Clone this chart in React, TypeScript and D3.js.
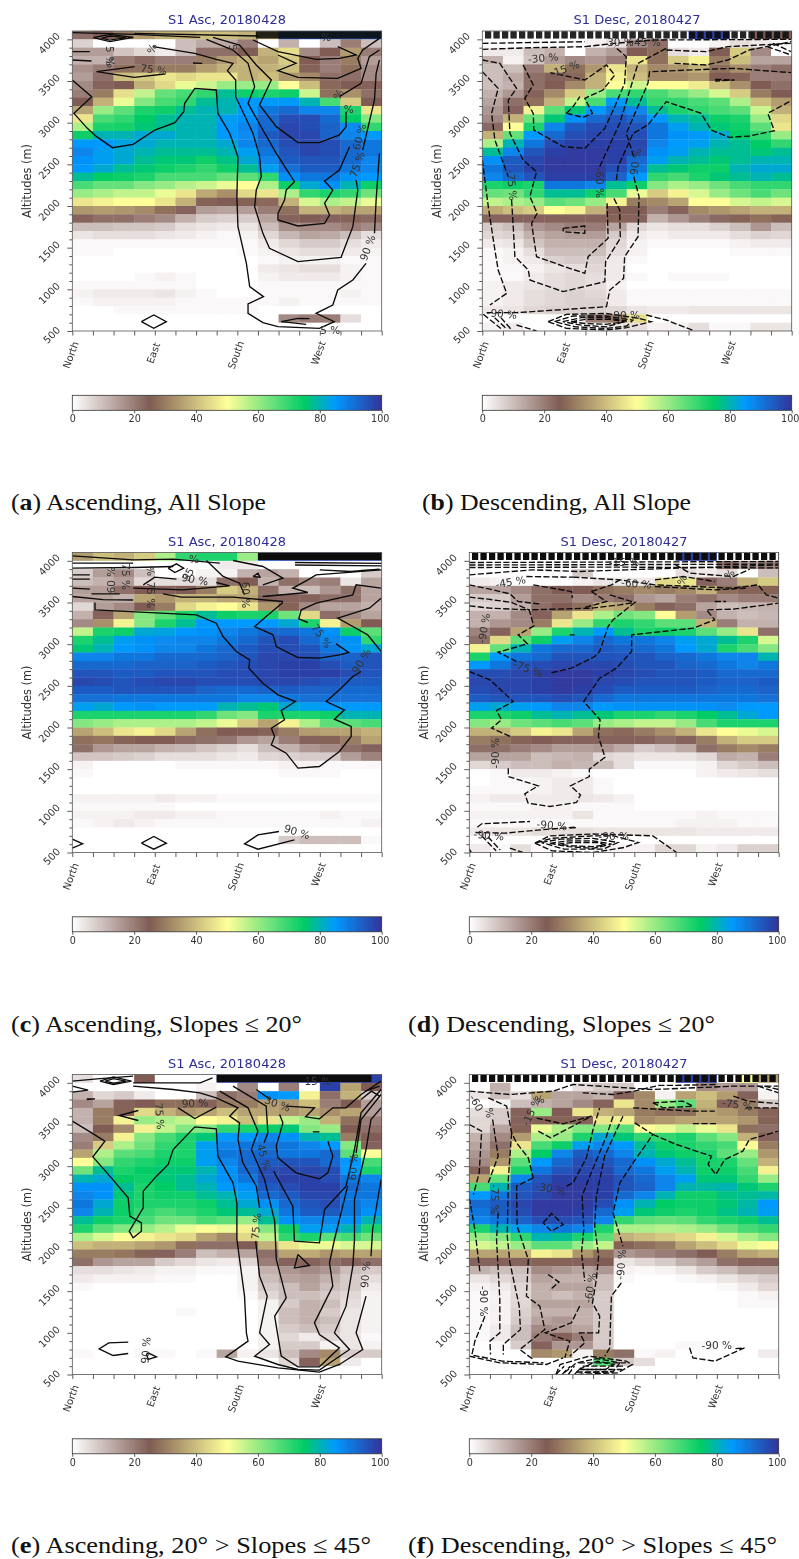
import React, { useEffect, useRef } from "react";
import * as d3 from "d3";

// percent per cell, rows run from 4100 m (top) down to 500 m, 15 aspect bins
const aspectLabels = ["North", "East", "South", "West"];
const aspectTicks = [0, 4, 8, 12];
const altitudeTicks = [500, 1000, 1500, 2000, 2500, 3000, 3500, 4000];
const barTicks = [0, 20, 40, 60, 80, 100];
const colorStops = [0, 25, 50, 75, 85, 100];
const colorValues = ["#ffffff", "#805c54", "#ffff99", "#00cc66", "#0099ff", "#333399"];
const bandAltitudes = [4090, 4078, 4066, 4054, 4042, 4030, 4018];

const ascAllCells = [
  [22,25,30,35,38,38,40,40,38,42,95,95,95,95,95],
  [7,0,0,0,0,10,13,13,20,0,12,0,10,20,10],
  [15,15,9,6,3,10,22,22,25,38,45,18,25,35,20],
  [12,12,20,23,20,20,30,35,38,36,42,25,20,30,15],
  [17,20,28,28,30,30,35,38,38,38,40,26,20,28,18],
  [15,22,40,42,46,44,46,46,38,40,34,32,22,22,18],
  [18,24,25,38,44,52,55,60,60,60,50,40,27,25,24],
  [20,30,45,56,65,68,70,78,74,72,74,55,28,33,22],
  [25,38,52,62,68,70,78,80,85,85,85,80,68,42,25],
  [36,60,66,72,74,78,80,80,85,90,92,88,88,72,46],
  [46,68,70,75,78,80,80,84,86,92,96,96,92,75,62],
  [58,72,73,76,78,80,80,85,88,92,97,96,93,87,70],
  [74,80,80,82,82,80,80,85,87,94,97,97,93,88,85],
  [85,85,83,82,80,80,80,82,88,92,96,97,96,92,90],
  [88,84,82,80,78,78,78,80,84,90,95,97,96,92,90],
  [86,84,82,78,76,76,74,77,82,88,94,95,95,92,88],
  [85,82,78,76,74,72,70,74,78,84,91,94,94,90,88],
  [78,75,74,72,68,68,68,65,66,70,86,90,90,86,85],
  [68,65,65,62,60,57,55,52,50,58,74,82,86,80,74],
  [60,58,56,56,52,46,37,33,44,46,58,70,72,70,64],
  [46,48,50,50,46,38,26,25,26,27,38,54,58,56,52],
  [34,35,34,32,28,24,15,14,15,20,28,38,38,36,36],
  [24,22,22,20,18,12,8,7,8,14,24,25,24,26,23],
  [10,10,9,9,8,5,4,3,4,10,17,18,18,20,18],
  [4,5,5,5,4,3,2,1,2,6,11,14,13,10,5],
  [1,1,1,1,1,1,1,1,1,3,6,8,8,5,3],
  [1,1,0,0,0,0,0,0,1,2,4,5,5,3,2],
  [0,0,0,0,0,0,0,0,0,1,2,2,2,1,1],
  [0,0,0,0,0,0,0,0,0,3,4,5,5,2,1],
  [0,0,0,1,2,1,0,0,0,2,3,3,3,2,1],
  [1,1,1,1,1,1,0,0,0,1,1,1,1,1,1],
  [2,3,3,3,4,2,1,0,0,1,1,1,1,2,1],
  [1,2,2,2,2,1,1,1,1,1,2,1,1,1,1],
  [0,0,1,1,1,1,1,1,1,0,0,0,0,0,0],
  [0,0,0,0,0,0,0,0,0,0,18,20,20,5,0],
  [0,0,0,0,0,0,0,0,0,0,0,0,0,0,0],
];

const descAllCells = [
  [0,0,0,0,0,0,0,0,0,0,98,98,0,25,25],
  [0,0,0,0,0,2,5,18,22,0,0,2,5,3,1],
  [3,3,10,12,0,12,15,25,28,5,3,25,42,18,0],
  [12,2,9,15,18,16,20,46,28,42,48,30,40,14,14],
  [10,10,20,38,28,34,46,38,32,34,38,28,33,20,22],
  [10,13,22,24,27,38,48,40,32,32,34,25,26,20,20],
  [10,12,22,25,32,38,50,55,50,50,47,40,33,25,22],
  [12,16,24,32,42,60,68,70,68,64,60,54,42,30,25],
  [14,22,28,38,56,68,85,78,70,70,68,66,58,40,35],
  [16,24,48,66,76,85,90,88,78,72,70,68,66,55,38],
  [18,38,64,76,86,92,95,92,85,80,78,74,72,60,44],
  [23,50,72,88,94,96,96,95,90,84,80,76,74,66,46],
  [38,65,85,92,96,97,97,96,90,86,85,82,75,70,60],
  [58,80,90,96,98,98,98,97,88,85,84,80,78,75,70],
  [78,88,95,98,99,99,98,96,86,84,80,78,78,76,78],
  [86,94,97,99,99,99,98,92,84,80,78,76,78,80,80],
  [90,95,98,99,99,99,96,90,78,76,74,74,80,82,82],
  [88,92,95,98,98,98,93,85,70,68,72,76,78,80,78],
  [72,74,72,90,90,88,78,74,62,58,60,64,68,70,70],
  [65,64,70,78,78,74,68,52,42,48,54,60,64,68,64],
  [56,58,60,66,64,60,48,30,32,36,50,50,54,56,54],
  [37,40,42,50,48,38,25,25,20,24,32,34,36,38,38],
  [24,24,24,24,24,24,26,24,12,16,20,23,26,28,26],
  [8,10,16,18,20,20,14,6,4,5,5,7,10,16,10],
  [6,7,12,14,15,15,8,3,2,3,3,3,5,7,6],
  [3,4,9,12,12,12,6,2,1,1,1,1,2,3,3],
  [1,2,5,10,10,10,5,2,0,0,0,0,1,1,1],
  [1,2,3,7,8,7,3,1,0,0,0,0,0,0,0],
  [1,1,2,4,5,6,3,0,0,0,0,0,0,0,0],
  [1,1,3,5,6,5,3,1,0,1,1,1,0,0,0],
  [2,3,4,5,6,5,2,0,0,0,0,0,0,0,0],
  [2,3,5,6,7,6,3,1,1,1,1,1,1,1,1],
  [2,3,5,6,7,7,3,1,1,1,1,1,1,1,1],
  [3,4,6,7,7,7,6,4,3,3,4,4,4,4,4],
  [0,0,0,0,0,20,30,45,0,0,0,0,0,0,0],
  [2,3,0,0,0,2,4,5,2,2,5,1,1,4,4],
];

const ascLowCells = [
  [35,40,38,42,58,70,72,72,60,95,98,98,98,98,98],
  [0,0,0,0,0,0,0,3,3,0,0,0,0,0,0],
  [8,15,18,10,0,0,2,2,12,14,12,0,0,0,8],
  [10,12,15,6,5,5,5,22,25,12,22,18,20,4,14],
  [15,15,22,25,24,25,30,42,38,22,12,10,16,22,14],
  [14,14,12,36,34,38,38,36,36,24,24,24,22,22,14],
  [6,15,18,25,30,44,48,50,46,34,26,18,14,14,12],
  [12,24,36,62,66,72,78,74,72,72,64,44,22,18,14],
  [18,33,48,62,72,78,85,85,85,85,82,72,48,35,25],
  [56,72,74,82,83,85,86,88,90,92,92,90,86,74,66],
  [72,78,84,86,87,88,88,90,92,95,96,92,88,86,70],
  [76,80,85,86,88,88,90,92,94,96,96,95,90,86,82],
  [88,88,90,90,92,92,92,93,95,97,97,96,93,93,95],
  [92,92,92,93,93,93,94,95,96,97,98,98,96,94,95],
  [95,95,94,94,95,95,95,96,96,97,98,98,98,96,95],
  [97,96,95,96,97,97,96,96,96,97,97,96,95,94,94],
  [94,94,95,95,95,95,93,92,92,93,94,93,93,92,92],
  [91,91,90,90,90,90,90,90,88,88,90,91,91,91,91],
  [84,82,85,86,85,85,85,80,78,76,82,84,85,85,85],
  [72,72,72,72,72,72,70,64,62,72,72,72,74,80,80],
  [62,60,58,58,58,58,56,52,42,36,48,58,66,66,68],
  [36,40,46,48,44,36,28,25,25,26,30,35,36,36,38],
  [28,29,26,25,25,23,22,21,16,14,20,24,26,30,36],
  [22,16,14,14,12,11,9,7,5,10,12,16,18,22,24],
  [9,9,8,7,5,5,5,4,3,6,7,8,8,15,19],
  [2,0,0,0,0,1,1,1,1,1,2,2,1,1,1],
  [1,0,0,0,0,0,0,0,0,0,1,1,1,0,0],
  [0,0,0,0,0,0,0,0,0,0,0,0,0,0,0],
  [0,0,0,0,0,0,0,0,0,0,0,0,0,0,0],
  [2,2,2,2,3,2,2,1,1,1,1,1,1,1,1],
  [1,1,1,1,1,0,0,0,0,0,0,0,0,0,0],
  [2,2,2,3,3,2,2,1,1,1,1,1,2,1,1],
  [1,2,3,2,1,1,1,1,1,1,1,1,1,1,2],
  [0,0,0,0,0,0,0,0,0,0,0,0,0,0,0],
  [0,0,0,0,0,0,0,0,0,0,8,10,10,10,1],
  [0,0,0,0,0,0,0,0,0,0,0,0,0,0,0],
];

const descLowCells = [
  [0,0,0,0,0,0,2,0,0,0,98,98,0,0,0],
  [0,0,0,0,0,0,0,0,0,0,0,0,22,15,20],
  [0,0,0,0,0,8,0,0,0,0,5,3,5,0,10],
  [3,2,0,0,0,2,4,3,3,44,46,24,20,38,42],
  [14,14,18,22,25,25,28,30,32,30,32,38,28,26,26],
  [8,8,15,22,22,18,20,22,16,14,20,22,18,20,20],
  [6,7,12,22,25,28,38,36,30,24,22,14,10,11,12],
  [12,12,18,24,36,46,58,64,62,50,35,18,12,10,11],
  [12,16,18,30,46,60,70,72,70,66,66,38,20,12,12],
  [19,24,36,60,72,80,85,78,72,74,72,66,60,46,22],
  [22,44,66,74,84,88,92,90,90,88,84,82,78,72,54],
  [48,65,80,90,92,92,94,93,92,90,85,82,72,68,62],
  [72,85,90,92,95,95,95,95,95,93,92,90,88,88,80],
  [85,90,95,96,97,97,97,96,95,95,93,92,90,88,90],
  [96,96,97,98,99,99,98,97,96,95,95,94,92,92,92],
  [97,97,97,98,99,99,97,96,95,95,95,94,93,93,94],
  [96,97,97,98,99,98,96,94,94,94,94,93,92,92,93],
  [94,95,95,95,96,95,92,90,90,90,90,90,90,90,91],
  [84,82,84,85,88,88,85,86,86,86,86,86,87,85,85],
  [72,72,74,78,80,78,76,72,72,70,72,75,78,82,85],
  [62,60,64,66,68,66,60,58,56,56,60,68,72,72,72],
  [38,38,42,48,46,36,28,27,30,33,38,46,50,52,54],
  [30,28,26,25,24,24,24,24,24,22,24,30,38,42,42],
  [22,22,20,18,15,15,16,13,8,10,13,22,30,32,30],
  [14,14,14,10,11,12,6,5,4,4,4,6,13,12,20],
  [6,8,10,10,12,11,10,5,1,1,1,2,6,8,10],
  [0,1,3,3,2,1,0,0,0,0,0,2,3,4,5],
  [0,1,1,2,3,3,1,0,0,0,0,0,0,0,0],
  [1,1,1,2,3,3,1,0,0,0,0,0,0,0,0],
  [2,3,3,3,3,4,3,2,0,0,0,0,0,0,0],
  [1,1,1,2,2,1,1,1,0,0,0,0,0,0,0],
  [2,2,2,2,2,4,1,1,1,1,1,2,1,1,1],
  [1,1,1,1,1,1,1,1,1,1,2,2,2,1,1],
  [3,4,4,5,5,5,4,4,4,4,4,3,3,3,3],
  [0,0,0,0,2,0,0,0,0,0,0,0,0,0,0],
  [3,1,5,1,0,0,2,2,2,6,6,2,3,7,7],
];

const ascMidCells = [
  [5,0,0,25,0,0,0,98,98,98,98,98,98,98,98],
  [0,0,0,0,0,0,2,0,18,0,20,0,98,36,25],
  [12,6,8,3,0,0,10,22,20,86,85,48,22,38,8],
  [18,14,24,25,28,28,24,30,30,35,34,40,20,25,15],
  [12,30,26,44,38,34,36,40,36,36,34,36,33,36,15],
  [12,30,48,60,58,56,50,48,40,46,56,60,38,28,20],
  [10,25,32,48,56,62,62,70,72,74,76,62,60,25,22],
  [18,30,48,62,68,72,76,85,85,88,86,80,78,30,25],
  [20,42,58,64,70,72,84,88,90,91,90,88,85,62,24],
  [36,58,66,68,72,72,84,90,92,92,90,90,92,66,50],
  [50,62,70,72,74,74,84,88,92,94,95,95,92,85,68],
  [64,78,72,75,76,76,80,86,92,96,97,97,96,85,72],
  [80,82,75,74,76,78,82,86,90,96,98,98,96,90,88],
  [86,86,78,72,75,78,80,85,86,94,96,98,98,92,90],
  [88,86,76,72,74,74,78,80,84,92,94,97,97,90,90],
  [90,82,74,72,72,72,74,78,82,86,92,95,96,90,88],
  [88,80,74,70,68,70,72,76,78,82,90,94,94,90,86],
  [78,74,72,68,64,64,68,66,60,78,86,88,88,86,80],
  [72,66,62,60,57,52,50,52,48,62,74,84,84,80,72],
  [58,54,50,48,46,44,36,32,44,56,70,72,66,68,64],
  [40,38,38,36,34,28,22,22,25,38,46,52,52,54,54],
  [30,30,29,26,24,20,10,12,14,22,36,37,34,36,36],
  [22,16,14,14,8,6,4,3,6,20,24,24,22,24,22],
  [5,5,4,3,2,2,1,1,2,12,16,18,16,10,8],
  [3,2,2,2,1,1,0,0,2,10,14,15,12,8,5],
  [1,0,0,0,0,0,0,0,2,8,10,14,10,8,3],
  [0,0,0,0,0,0,0,0,1,6,10,10,8,6,2],
  [0,0,0,0,0,0,0,0,0,2,8,12,10,5,2],
  [0,0,0,0,0,1,0,0,0,2,10,12,8,4,2],
  [0,0,0,0,0,0,0,0,0,2,10,12,10,4,2],
  [0,0,0,0,0,0,0,0,0,2,8,10,8,4,2],
  [0,0,0,0,0,0,0,0,0,2,6,3,6,4,1],
  [0,0,0,0,0,0,0,0,0,2,8,8,2,4,2],
  [1,0,0,1,1,0,1,14,2,4,10,18,32,8,8],
  [0,0,0,0,0,0,0,0,0,0,6,24,36,3,0],
  [0,0,0,0,0,0,0,0,0,0,0,0,0,0,0],
];

const descMidCells = [
  [0,0,0,0,0,0,0,0,0,0,98,98,0,50,35],
  [0,12,0,0,0,5,8,8,0,0,0,18,15,15,0],
  [4,10,5,36,14,14,12,24,32,2,36,40,35,24,2],
  [0,2,10,12,14,18,24,46,32,60,66,38,24,30,8],
  [5,8,24,60,25,46,38,36,30,28,28,36,34,30,26],
  [6,8,24,26,26,26,46,48,32,34,36,36,36,34,26],
  [6,14,26,52,58,62,62,66,50,52,56,52,46,28,22],
  [12,18,35,58,60,72,82,76,70,70,72,66,62,38,24],
  [14,22,46,68,74,84,88,85,78,74,72,70,68,50,30],
  [16,30,58,75,88,94,92,88,80,76,74,72,66,60,34],
  [18,34,66,85,92,96,95,92,86,82,78,73,72,65,38],
  [24,48,72,90,95,97,97,92,90,84,80,74,74,68,48],
  [36,65,88,95,98,98,98,95,92,88,84,76,76,70,60],
  [68,80,94,96,99,99,98,95,93,88,80,79,80,76,72],
  [85,90,95,97,99,99,98,92,88,80,74,74,77,78,79],
  [92,94,97,99,99,99,96,86,80,75,74,74,76,79,85],
  [90,94,96,99,99,98,92,84,76,74,72,74,77,80,84],
  [88,90,93,96,96,95,88,70,66,65,66,70,72,74,78],
  [72,80,84,88,90,88,72,58,58,57,58,60,64,68,70],
  [60,62,70,80,78,72,66,38,40,42,44,48,54,58,62],
  [54,56,60,66,66,60,56,26,28,30,36,40,44,52,50],
  [36,36,38,48,46,34,28,16,18,20,22,25,30,36,38],
  [24,24,24,26,26,24,25,4,6,8,12,15,22,24,24],
  [12,10,10,18,16,14,16,2,1,2,4,8,10,14,14],
  [4,6,8,14,12,12,10,1,0,0,1,2,4,6,8],
  [2,3,6,12,14,14,10,0,0,0,0,0,1,3,6],
  [1,2,6,12,10,12,8,0,0,0,0,0,0,1,2],
  [1,2,6,14,14,14,8,0,0,0,0,0,0,1,1],
  [1,2,7,12,12,12,8,0,0,0,0,0,0,0,0],
  [1,2,8,14,16,12,8,0,0,0,0,0,0,0,0],
  [1,3,10,18,16,14,8,0,0,0,0,0,0,0,0],
  [1,3,10,20,24,20,8,0,0,0,0,0,0,0,0],
  [0,1,8,24,16,16,8,0,0,0,1,1,0,0,0],
  [0,0,0,32,34,2,30,22,1,2,0,0,0,0,3],
  [0,0,0,0,0,0,66,8,5,0,0,0,0,0,0],
  [0,0,0,0,0,0,0,0,0,0,0,0,0,0,0],
];

// contour lines as [aspect bin, altitude in m]
const ascAllLines = [
  [[0,3512],[.94,3312],[.08,3112],[.73,2932],[1.18,2832],[1.95,2700],[2.95,2740],[4,2912],[4.97,3000],[5.4,3132],[5.45,3232],[5.94,3412],[6.98,3392],[7.06,3112],[7.63,2872],[8.03,2592],[7.98,2112],[8.03,1752],[8.44,1312],[8.6,1032],[9.27,912],[8.52,824],[8.52,712],[9.24,600],[9.97,552],[11.98,532],[12.7,612],[11.82,712],[12.63,812],[12.87,992],[13.6,1112],[14.24,1312]],
  [[14.65,1672],[14.73,2072],[14.89,2632]],
  [[3.92,3912],[5.94,3832],[6.98,3760],[7.79,3712],[7.52,3624],[7.92,3512],[7.92,3312],[8.76,2872],[9.08,2592],[9.16,2352],[8.92,2192],[8.84,1992],[9.24,1672],[9.56,1492],[10.94,1332],[13.03,1384],[13.6,1752],[13.84,2192],[13.76,2312]],
  [[14.08,2672],[14.65,3272],[14.73,3592],[14.89,3752]],
  [[6.5,4000],[7.79,3872],[8.52,3712],[8.84,3432],[8.52,3232],[9.24,2912],[9.89,2632],[10.77,2292],[10.37,2192],[10.29,2072],[9.97,1912],[9.97,1832],[10.94,1760],[12.23,1792],[12.47,1892],[12.23,2032],[12.63,2192],[12.23,2300],[12.95,2432],[13.44,2712]],
  [[6.82,4024],[8.11,3932],[8.92,3692],[9.65,3512],[9.08,3212],[9.89,2952],[10.94,2760],[11.98,2760],[12.95,2852],[13.27,2952],[13.27,3132]],
  [[8.76,3992],[9.97,3852],[11.82,3760],[12.95,3772],[13.76,3812],[12.87,3912]],
  [[9.97,3812],[10.85,3712],[9.97,3624],[10.94,3544],[12.87,3532],[14,3652],[13.84,3772],[14.08,3872],[14.89,4012]],
  [[12.95,3312],[14,3472],[14.4,3792],[14.89,3872]],
  [[0,4080],[3,4060],[6.2,4024]],
  [[3,4072],[9,4040]],
  [[1.02,4020],[1.82,4060],[2.95,4024],[1.82,3972],[1.02,4020]],
  [[1.42,4012],[1.82,4040],[2.6,4020],[1.82,3990],[1.42,4012]],
  [[0,3852],[.85,3852]],
  [[0,3752],[.93,3740]],
  [[1.18,3612],[3.03,3672]],
  [[1.18,3612],[3,3544],[4.48,3584]],
  [[3.35,612],[3.95,692],[4.56,612],[3.95,532],[3.35,612]],
  [[5.85,3712],[6.3,3712],[5.85,3716]],
  [[10.13,612],[11.34,580]],
  [[10.13,612],[10.94,652],[11.5,648]],
  ...bandAltitudes.map((a) => [[8.9,a],[15,a]]),
];

const descAllLines = [
  [[0,2552],[.29,1992],[.61,1472],[.77,1232],[1.18,952],[.37,812]],
  [[.21,720],[1.66,720],[6.02,792],[6.18,992],[6.85,1132],[6.9,1392],[7.55,1632],[7.6,2112],[7.34,2352]],
  [[7.34,2592],[6.98,2872],[8.03,3472],[8.11,3612],[12.15,3652],[14.97,3600]],
  [[0,3612],[.77,3412],[.45,3112],[.61,2792],[1.26,2352]],
  [[1.42,2072],[1.5,1752],[1.58,1392],[2.23,1232],[2.31,1112],[3.92,972],[5.94,1092],[5.98,1332],[6.69,1612],[6.66,1952],[6.34,2112]],
  [[6.5,2312],[6.58,2472],[7.31,2872],[8.03,2972],[8.92,3252],[10.61,3112],[11.1,2912],[11.98,2824],[12.95,2840],[14.16,2904],[13.84,3112],[14.89,3252]],
  [[0,3752],[.85,3712],[1.66,3412],[1.26,3272],[1.34,2872],[1.98,2552],[2.63,2412],[2.31,2112],[2.66,1912],[2.39,1792],[2.63,1392],[4,1272],[4.97,1192],[5.13,1392],[6.1,1612],[6.05,2032]],
  [[5.69,2472],[6.66,2992],[7.55,3712],[8.92,3892]],
  [[1.98,3692],[2.47,3452],[2.06,3292],[2.47,3112],[2.5,2912],[3.92,2712],[4.97,2692],[5.94,2932],[6.42,3192],[6.9,3472],[6.98,3792],[6.42,3912]],
  [[4.08,3112],[4.89,3064],[5.34,3112],[4.97,3292],[5.85,3392],[6.42,3572],[6.02,3692],[4.97,3512],[3.3,3600]],
  [[4.08,3112],[4.4,3192],[4.73,3312]],
  [[3.92,1732],[4.97,1760],[4.97,1672],[3.92,1692],[3.92,1732]],
  [[11.29,3520],[12.23,3512],[11.29,3500]],
  [[9.32,3712],[10.85,3692],[11.9,3752],[12.95,3872],[14.97,3972]],
  [[8.92,3872],[10.85,3852],[11.9,3912],[14.97,3952]],
  [[0,3952],[4.97,3972]],
  [[0,3880],[2.47,3900],[4.97,3912]],
  [[4.97,3912],[6.42,3952],[8.27,3992],[14.97,4000]],
  [[13.8,3912],[14.97,3812]],
  [[14.1,3952],[14.97,3852]],
  [[3.19,612],[4.08,700],[6,710],[7.63,650],[8.19,612],[7,540],[6,512],[4.08,532],[3.19,612]],
  [[3.5,612],[4.4,680],[6,680],[7.3,630],[7,560],[6,530],[4.5,550],[3.5,612]],
  [[3.9,612],[4.8,660],[6,660],[7,620],[6,550],[4.8,570],[3.9,612]],
  [[4.3,610],[5,640],[6.2,640],[6.9,610],[6,580],[5,590],[4.3,610]],
  [[7.95,692],[8.92,632],[10.2,508]],
  [[.05,700],[.9,530]],
  [[.6,660],[1.2,520]],
  [[.9,660],[1.4,520]],
  [[1.66,572],[2.63,500]],
  ...bandAltitudes.map((a) => [[.13,a],[15,a]]),
];

const ascLowLines = [
  [[1.1,3500],[1.1,3412],[6.02,3352],[6.98,3252],[7.31,3092],[7.95,2912],[8.6,2812],[8.56,2712],[9.24,2532],[9.97,2392],[10.82,2312],[10.13,2204],[10.29,2092],[9.65,1992],[9.81,1892],[9.65,1792],[10.37,1692],[10.94,1512],[11.98,1532],[12.95,1712],[13.52,1892],[13.52,2012],[12.71,2100],[13.19,2212],[12.31,2312],[12.95,2452],[13.6,2612],[14,2672]],
  [[14.97,2912],[14.32,3112],[13.6,3212],[12.87,3312],[14.4,3432],[14.97,3552]],
  [[10.21,3500],[9.4,3332],[8.84,3212],[9.73,3112],[9.89,2972],[10.94,2840],[11.98,2832],[12.95,2872],[13.4,2900],[12.79,3004]],
  [[11.42,3260],[10.98,3304],[11.1,3412],[11.82,3492],[13.6,3592],[13.76,3712],[14.97,3672]],
  [[4.4,3604],[5.29,3564],[7.79,3564],[10.21,3512]],
  [[9.24,3572],[11.42,3620],[10.69,3672],[11.42,3772],[11.82,3832],[14.97,3892]],
  [[2.95,3672],[5.37,3652],[7.63,3700],[6.98,3740]],
  [[3.44,3712],[4,3804],[5.05,3780]],
  [[6.5,4004],[7.31,3812],[8.11,3732],[8.35,3592]],
  [[7.79,4004],[9.24,3932],[10.21,3792],[9.24,3712]],
  [[0,3832],[.85,3832]],
  [[0,3780],[.85,3780]],
  [[0,3672],[.85,3660]],
  [[.93,3604],[2.3,3604]],
  [[0,3572],[1.5,3535],[2.95,3530]],
  [[0,4060],[2.95,4012],[4.89,4020],[7.15,3972]],
  [[0,3972],[2.95,3972]],
  [[0,3912],[3,3920],[4.89,3932]],
  [[4.65,3912],[5.05,3964],[5.4,3912],[4.97,3860],[4.65,3912]],
  [[3.35,612],[3.95,692],[4.56,612],[3.95,540],[3.35,612]],
  [[0,660],[.5,604],[0,552]],
  [[10.02,752],[9,712],[8.35,604],[9,540],[10.77,652]],
  [[8.76,3812],[9,3852],[9.1,3804],[8.76,3812]],
  [[12,3892],[13.5,3872],[14.9,3900]],
  [[10.8,3950],[15,3940]],
  [[10.8,3980],[15,3970]],
  ...bandAltitudes.map((a) => [[9,a],[15,a]]),
];

const descLowLines = [
  [[2.29,2792],[1.4,2904],[2.82,3004],[2.37,3112],[3.13,3220],[2.9,3412],[5.92,3432],[7.29,3472],[8.02,3500],[6.97,3292],[6.73,3212],[6.32,2912],[6.08,2852],[4.95,2712],[3.9,2652]],
  [[0,2672],[1,2572],[2.13,2312],[1.32,2204],[1.56,2092],[1.08,1992],[2,1892]],
  [[1.89,1512],[1.89,1412],[3.34,1300],[2.69,1204],[2.85,1092],[3.9,1052],[5.2,1100],[5.39,1192],[4.9,1300],[5.82,1412],[5.82,1500],[6.58,1644],[6.26,1892],[6.34,2092],[5.55,2312],[6.32,2592],[7.13,2712],[7.87,2912],[7.87,3112],[10.85,3192],[11.9,3292],[11.5,3412],[12.79,3420],[15,3492]],
  [[0,3564],[.92,3540],[2.05,3500],[2.9,3412]],
  [[0,3460],[1,3432],[2.9,3412]],
  [[0,3712],[1,3660],[1.97,3604],[2.37,3512],[3.5,3480]],
  [[3.1,3712],[4.95,3632],[5,3552]],
  [[5.03,3804],[7.29,3772],[9,3712],[12.79,3672],[14,3712],[14.4,3592],[15,3552]],
  [[5.92,3632],[6.65,3512],[5.6,3440]],
  [[6.81,3592],[8.02,3500]],
  [[5.92,3632],[6.9,3712],[7.3,3772]],
  [[9,3692],[11.9,3652],[13.44,3672]],
  [[9,3772],[10.37,3812],[11.9,3752]],
  [[0,3980],[15,3992]],
  [[0,3950],[15,3960]],
  [[0,3920],[7,3925],[15,3915]],
  [[0,3832],[3.1,3892],[5.3,3872],[7.6,3892],[15,3950]],
  [[2.77,3812],[5.03,3804]],
  [[10,3952],[10.7,3852],[12.8,3812],[13.6,3900]],
  [[.39,804],[.6,844],[2.94,872]],
  [[4.87,792],[5.2,800]],
  [[.3,740],[1.73,732],[3.1,764],[5.11,804]],
  [[.6,700],[1.3,520]],
  [[.9,690],[1.5,530]],
  [[1.97,552],[2.6,500]],
  [[0,540],[.1,500]],
  [[4.87,3112],[5.1,3112]],
  [[11.9,3512],[12.45,3512]],
  [[3.18,612],[3.9,700],[6,722],[8.9,700],[10.05,500]],
  [[3.18,612],[4,520],[6,500],[7.5,560],[8.2,620],[7,700],[6,700],[4,670],[3.18,612]],
  [[3.5,620],[4.4,660],[6,670],[7.2,620],[6.5,540],[4.6,540],[3.5,620]],
  [[3.9,610],[4.8,640],[6,640],[6.9,600],[6,550],[4.8,570],[3.9,610]],
  [[4.3,600],[5,620],[6.2,620],[6.6,590],[6,570],[5,580],[4.3,600]],
  ...bandAltitudes.map((a) => [[.13,a],[15,a]]),
];

const ascMidLines = [
  [[0,3540],[.94,3400],[1.58,3300],[1,3112],[1.82,2880],[2.71,2620],[2.79,2400],[3.35,2320],[3.35,2220],[2.95,2140],[2.76,2220],[3.44,2500],[3.44,2700],[4.08,2880],[4.65,3020],[4.89,3200],[5.94,3472],[6.98,3448],[7.06,3120],[7.79,2800],[7.98,2560],[7.98,2120],[8.35,1440],[8.44,1000],[8.52,900],[7.44,712],[8.03,660],[9.97,580],[11.98,528],[12.95,620],[14.08,800],[13.76,1000],[14.24,1440]],
  [[14.48,1920],[14.56,2240],[14.97,2840]],
  [[2.95,3960],[4.89,3920],[6.18,3880],[6.98,3820],[8.03,3700],[7.63,3600],[8.11,3520],[8.03,3320],[8.27,3040],[8.92,2760],[9.08,2500]],
  [[8.89,2100],[9.08,1680],[9.45,1440],[9.08,1000],[9.56,860],[8.84,720],[9.97,620],[10.94,560],[11.98,552],[13.44,800],[12.71,1000],[13.27,1320],[13.6,1800],[13.68,2120],[13.68,2600],[14.24,3200],[14.48,3560],[14.97,3700]],
  [[7.15,3900],[8.52,3700],[9,3420],[8.68,3200],[9.32,2840],[9.81,2340],[9.89,1880],[10.37,1420],[9.81,1200],[10.13,720],[10.94,592],[11.98,592],[12.95,820],[11.98,980],[11.74,1120],[12.63,1560],[12.47,1840],[12.71,2120],[13.35,2760]],
  [[13.76,3160],[14,3560],[14.97,3860]],
  [[7.79,3960],[9.4,3720],[9.48,3400],[9.3,3280]],
  [[9.76,2940],[10.69,2520],[10.77,2100],[11.98,2080],[12.23,2480],[13.27,2760],[13.68,3200],[14,3640],[14.97,3920]],
  [[10.05,3620],[10.21,3520],[9.89,3240],[9.97,3100],[10.85,2920],[11.98,2848],[12.39,2920],[12.63,3120],[12.39,3300]],
  [[8.92,3920],[9.6,3800]],
  [[10.37,3720],[11.74,3700],[11.31,3592],[11.98,3568],[12.63,3700],[13.27,3700],[14,3860],[14.97,4020]],
  [[1.34,4020],[1.99,4072],[2.87,4020],[1.99,3980],[1.34,4020]],
  [[1.6,4020],[2,4050],[2.6,4020],[2,3995],[1.6,4020]],
  [[0,4020],[1.2,4048],[2.95,4080]],
  [[0,3960],[.77,3912],[0,3888]],
  [[2.95,4000],[6.2,4000],[6.8,4060]],
  [[.7,3808],[1.1,3808],[.7,3800]],
  [[5.13,3700],[5.94,3572],[6.98,3708]],
  [[3.2,3668],[2.27,3608],[3.2,3548]],
  [[10.94,1940],[11.5,1808],[10.77,1780],[10.94,1940]],
  [[2.71,888],[1.77,880],[1.3,808],[1.98,728],[2.71,752]],
  [[3.68,760],[4.08,712],[3.68,680],[3.6,740],[3.68,760]],
  [[11.66,3412],[11.98,3412]],
  [[14.2,3900],[14.9,3960]],
  [[14,3800],[14.5,3900],[14.9,3840]],
  ...bandAltitudes.map((a) => [[7,a],[14.5,a]]),
];

const descMidLines = [
  [[0,2620],[.27,2240],[.52,1720]],
  [[.76,1200],[.27,900],[.11,720]],
  [[0,3500],[.6,3420],[.48,2920],[.2,2660]],
  [[1.13,3560],[1.4,3120],[.92,2800]],
  [[1.4,2440],[1.32,2120],[1.48,1400],[1.48,1000],[1,900],[1.03,740]],
  [[.92,3820],[1.81,3720],[2.05,3400],[2.29,3280],[2.86,3100],[3.1,2860]],
  [[4.71,2760],[5.03,2800],[5.68,3100],[6,3440],[6.32,3700]],
  [[2.05,3400],[1.89,2840],[1.84,2160],[1.97,1840],[2.42,1320],[2.48,1040],[1.65,860],[1.65,740]],
  [[3.1,2860],[2.29,2760],[2.32,2280],[2.86,1880],[2.77,1440],[3.42,1320],[3.66,1040],[2.45,800],[3.1,680]],
  [[6.97,3600],[6.65,3360],[5.84,2880],[5.47,2640],[5.55,2240],[5.44,1960],[5.6,1620]],
  [[5.35,1320],[4.95,1120],[3.69,1000],[4.87,900],[4.63,700]],
  [[7.45,3600],[6.56,3120],[6.16,2640],[6.08,2280],[6.27,1920],[6.16,1640],[5.97,1360],[6.32,1200],[6.27,1000],[5.35,1000],[5.6,880],[4.87,720]],
  [[8.02,3520],[8.9,3380],[7.94,3040],[7.3,2800],[6.97,2440],[7.45,2040]],
  [[7.37,1600],[6.89,1440],[6.84,1080],[6.81,820],[6.57,720]],
  [[8.9,3380],[10.05,3260],[11.74,3120],[11.58,3020],[11.95,2900],[12.39,3080],[13.26,3180],[13.58,3320],[15,3420]],
  [[3.34,3420],[3.94,3340],[5.92,3600],[4.55,3508],[3.18,3580]],
  [[7.94,3700],[10.84,3660],[11.9,3660]],
  [[13.4,3700],[15,3700]],
  [[3.58,2320],[3.98,2432],[4.55,2300],[3.98,2220],[3.58,2320]],
  [[3.82,1700],[4.35,1608],[3.9,1512]],
  [[10.68,820],[10.84,700],[11.9,660],[13.34,820],[12.9,810]],
  [[0,720],[1.48,640],[3.74,620],[4.55,700]],
  [[.2,730],[1.6,660],[3.6,640]],
  [[0,3900],[1.97,3860],[4.07,3900],[5.03,3980],[8.9,3920],[12.8,3960],[15,3960]],
  [[5.5,3880],[6.97,3860],[8,3900],[9.2,3970],[10,3970],[12,3980]],
  [[8.9,3760],[10.35,3780],[10.84,3720],[9.4,3700],[8.9,3760]],
  [[12.8,3840],[13.5,3780],[15,3750]],
  [[14,3960],[15,3880]],
  [[14.3,3960],[15,3920]],
  [[10.84,3510],[11.97,3510]],
  [[4.2,500],[4.4,620],[5.8,720],[7.6,660],[7.9,620],[7.2,520],[5.2,500]],
  [[4.6,520],[5.2,640],[6.2,690],[7.3,640],[7,540],[5.4,520]],
  [[5.3,560],[6.2,660],[7,620],[6.6,560],[5.3,560]],
  [[4.2,500],[4.6,600]],
  [[4.5,500],[4.9,600]],
  [[4.8,500],[5.1,600]],
  [[5.1,500],[5.4,580]],
  [[5.5,600],[7.5,600]],
  [[5.3,640],[7.6,640]],
  [[5.5,560],[7.4,560]],
  [[5.2,530],[7,530]],
  ...bandAltitudes.map((a) => [[.13,a],[15,a]]),
];

const ascAllLabels = [
  ["75 %",3.95,3640,8],["5 %",1.85,3800,90],["%",1.85,3720,70],["%",3.85,3890,-70],["5",7.8,3900,80],
  ["60 %",13.9,2830,-75],["75 %",13.8,2500,-70],["90 %",14.3,1500,-70],["%",12.9,3340,-60],["%",13.4,3160,0],["5 %",12.5,515,0],["%",12.3,4030,0],
];
const descAllLabels = [
  ["-90 %",.95,710,5],["-30 %",2.95,3780,-5],["-15 %",4,3650,-20],["-75 %",1.45,2250,85],["-60 %",5.7,2280,90],["-90 %",7.4,2510,-82],
  ["30 %",6.7,3970,0],["45 %",8,3970,0],["90 %",7,690,0],
];
const ascLowLabels = [
  ["90 %",10.9,750,18],["75 %",12.1,3100,55],["90 %",14,2800,-60],["90 %",5.95,3780,10],["75 %",2.6,3810,90],["60 %",1.9,3770,-90],
  ["75 %",3.8,3590,90],["60 %",8.4,3590,90],["35",5.6,3840,-60],["%",3.8,3880,80],["%",5.9,4020,0],
];
const descLowLabels = [
  ["-45 %",2,3750,-10],["-60 %",8.1,3730,5],["-75 %",2.85,2710,20],["-90 %",.7,3190,-80],["-90 %",1.25,1690,-90],
  ["-90 %",4,830,5],["-90 %",.95,710,5],["-90 %",7,700,0],["%",10.3,3770,-70],["%",12.6,3840,-50],["-15 %",7.5,3990,0],
];
const ascMidLabels = [
  ["75 %",4.25,3600,85],["90 %",5.95,3760,-3],["30 %",9.95,3750,20],["45 %",9.3,3110,75],["75 %",8.9,2280,-85],
  ["60 %",13.6,2990,-85],["90 %",14.2,1700,-85],["90 %",3.55,790,-85],["15 %",11.9,4020,0],
];
const descMidLabels = [
  ["-90 %",.7,1380,90],["-75 %",1.25,2600,90],["-30 %",3.95,2730,12],["-60 %",5.85,1540,-80],["-90 %",7.35,1820,-85],
  ["-90 %",12,860,0],["-75 %",13,3740,8],["-60",.35,3760,60],["%",1,3640,80],["-15 %",3,3660,-65],["%",3.4,3800,-10],
];

const panels = [
  { title: "S1 Asc, 20180428", cells: ascAllCells, lines: ascAllLines, labels: ascAllLabels, dashed: false, x0: 72.3, top: 31, tag: "a", rest: " Ascending, All Slope", capX: 11, capEnd: 266, capY: 510 },
  { title: "S1 Desc, 20180427", cells: descAllCells, lines: descAllLines, labels: descAllLabels, dashed: true, x0: 482.3, top: 31, tag: "b", rest: " Descending, All Slope", capX: 422, capEnd: 691, capY: 510 },
  { title: "S1 Asc, 20180428", cells: ascLowCells, lines: ascLowLines, labels: ascLowLabels, dashed: false, x0: 72.3, top: 552.5, tag: "c", rest: " Ascending, Slopes ≤ 20°", capX: 11, capEnd: 302, capY: 1032 },
  { title: "S1 Desc, 20180427", cells: descLowCells, lines: descLowLines, labels: descLowLabels, dashed: true, x0: 469.3, top: 552.5, tag: "d", rest: " Descending, Slopes ≤ 20°", capX: 408, capEnd: 715, capY: 1032 },
  { title: "S1 Asc, 20180428", cells: ascMidCells, lines: ascMidLines, labels: ascMidLabels, dashed: false, x0: 72.3, top: 1074.5, tag: "e", rest: " Ascending, 20° > Slopes ≤ 45°", capX: 11, capEnd: 371, capY: 1553 },
  { title: "S1 Desc, 20180427", cells: descMidCells, lines: descMidLines, labels: descMidLabels, dashed: true, x0: 469.3, top: 1074.5, tag: "f", rest: " Descending, 20° > Slopes ≤ 45°", capX: 408, capEnd: 777, capY: 1553 },
];

const plotW = 309.4;
const plotH = 300;
const sans = "'DejaVu Sans', sans-serif";

const App = () => {
  const svgRef = useRef<SVGSVGElement>(null);

  useEffect(() => {
    const svg = d3.select(svgRef.current);
    svg.selectAll("*").remove();

    const color = d3.scaleLinear<string>().domain(colorStops).range(colorValues).interpolate(d3.interpolateRgb).clamp(true);

    const defs = svg.append("defs");
    defs.append("filter").attr("id", "soft").append("feGaussianBlur").attr("stdDeviation", 0.5);
    const grad = defs.append("linearGradient").attr("id", "ramp");
    colorStops.forEach((s, i) => {
      grad.append("stop").attr("offset", `${s}%`).attr("stop-color", colorValues[i]);
    });

    panels.forEach((p) => {
      const x = d3.scaleLinear().domain([0, 15]).range([p.x0, p.x0 + plotW]);
      const y = d3.scaleLinear().domain([500, 4100]).range([p.top + plotH, p.top]);
      const g = svg.append("g").attr("filter", "url(#soft)");

      // heat cells
      p.cells.forEach((row, r) => {
        g.selectAll(null)
          .data(row)
          .enter()
          .append("rect")
          .attr("x", (d, i) => x(i))
          .attr("y", y(4100 - r * 100))
          .attr("width", x(1) - x(0) + 0.3)
          .attr("height", y(4000) - y(4100) + 0.3)
          .attr("fill", (d) => color(d));
      });

      // contours
      const line = d3.line<number[]>().x((d) => x(d[0])).y((d) => y(d[1]));
      const clip = `clip-${p.tag}`;
      defs.append("clipPath").attr("id", clip).append("rect").attr("x", p.x0).attr("y", p.top).attr("width", plotW).attr("height", plotH);
      g.append("g")
        .attr("clip-path", `url(#${clip})`)
        .selectAll("path")
        .data(p.lines as number[][][])
        .enter()
        .append("path")
        .attr("d", line)
        .attr("fill", "none")
        .attr("stroke", "#0a0a0a")
        .attr("stroke-width", 1.35)
        .attr("stroke-dasharray", p.dashed ? "6.2,2.3" : null);

      g.selectAll("text.clabel")
        .data(p.labels as [string, number, number, number][])
        .enter()
        .append("text")
        .attr("class", "clabel")
        .attr("transform", (d) => `translate(${x(d[1])},${y(d[2])}) rotate(${d[3]})`)
        .attr("text-anchor", "middle")
        .attr("dominant-baseline", "central")
        .attr("font-family", sans)
        .attr("font-size", 10.5)
        .attr("fill", "#333")
        .text((d) => d[0]);

      // axes
      const xAxis = g.append("g").attr("transform", `translate(0,${p.top + plotH})`)
        .call(d3.axisBottom(x).tickValues(d3.range(0, 16)).tickSize(4.5).tickFormat(() => ""));
      xAxis.select(".domain").remove();
      xAxis.selectAll("line").attr("stroke", "#333").attr("stroke-width", 0.8);

      aspectTicks.forEach((t, i) => {
        const name = aspectLabels[i];
        g.append("text")
          .attr("transform", `translate(${x(t) - 1.5},${p.top + plotH + (name.length > 4 ? 24 : 22)}) rotate(-70)`)
          .attr("text-anchor", "middle")
          .attr("dominant-baseline", "central")
          .attr("font-family", sans)
          .attr("font-size", 10)
          .attr("fill", "#333")
          .text(name);
      });

      const yAxis = g.append("g").attr("transform", `translate(${p.x0},0)`)
        .call(d3.axisLeft(y).tickValues(d3.range(500, 4100, 100)).tickSize(3).tickFormat(() => ""));
      yAxis.select(".domain").remove();
      yAxis.selectAll("line").attr("stroke", "#333").attr("stroke-width", 0.8)
        .attr("x2", (d: any) => (altitudeTicks.includes(d) ? -5 : -3));

      altitudeTicks.forEach((t) => {
        g.append("text")
          .attr("transform", `translate(${p.x0 - (t === 500 ? 20.5 : 23)},${y(t) + 4}) rotate(-45)`)
          .attr("text-anchor", "middle")
          .attr("dominant-baseline", "central")
          .attr("font-family", sans)
          .attr("font-size", 10)
          .attr("fill", "#333")
          .text(t);
      });

      g.append("rect").attr("x", p.x0).attr("y", p.top).attr("width", plotW).attr("height", plotH)
        .attr("fill", "none").attr("stroke", "#555").attr("stroke-width", 0.8);

      g.append("text")
        .attr("transform", `translate(${p.x0 - 45.6},${p.top + 150}) rotate(-90)`)
        .attr("text-anchor", "middle")
        .attr("dominant-baseline", "central")
        .attr("font-family", sans)
        .attr("font-size", 11.4)
        .attr("fill", "#333")
        .text("Altitudes (m)");

      g.append("text")
        .attr("x", p.x0 + plotW / 2)
        .attr("y", p.top - 7)
        .attr("text-anchor", "middle")
        .attr("font-family", sans)
        .attr("font-size", 13)
        .attr("fill", "#2e2e96")
        .text(p.title);

      // colorbar
      const barTop = p.top + 364.3;
      const bar = d3.scaleLinear().domain([0, 100]).range([p.x0, p.x0 + plotW]);
      g.append("rect").attr("x", p.x0).attr("y", barTop).attr("width", plotW).attr("height", 15)
        .attr("fill", "url(#ramp)").attr("stroke", "#333").attr("stroke-width", 0.8);
      const barAxis = g.append("g").attr("transform", `translate(0,${barTop + 15})`)
        .call(d3.axisBottom(bar).tickValues(barTicks).tickSize(3).tickPadding(2));
      barAxis.select(".domain").remove();
      barAxis.selectAll("line").attr("stroke", "#333").attr("stroke-width", 0.8);
      barAxis.selectAll("text")
        .attr("font-family", sans)
        .attr("font-size", 9.6)
        .attr("fill", "#333")
        .attr("dx", (d: any) => (d === 100 ? -2 : 0));

      // caption
      const cap = svg.append("text")
        .attr("x", p.capX)
        .attr("y", p.capY)
        .attr("font-family", "'Liberation Serif', serif")
        .attr("font-size", 23.5)
        .attr("fill", "#111")
        .attr("textLength", p.capEnd - p.capX)
        .attr("lengthAdjust", "spacingAndGlyphs");
      cap.append("tspan").text("(");
      cap.append("tspan").attr("font-weight", "bold").text(p.tag);
      cap.append("tspan").text(")" + p.rest);
    });
  }, []);

  return <svg ref={svgRef} width={799} height={1559} style={{ position: "absolute", left: 0, top: 0 }} />;
};

export default App;
